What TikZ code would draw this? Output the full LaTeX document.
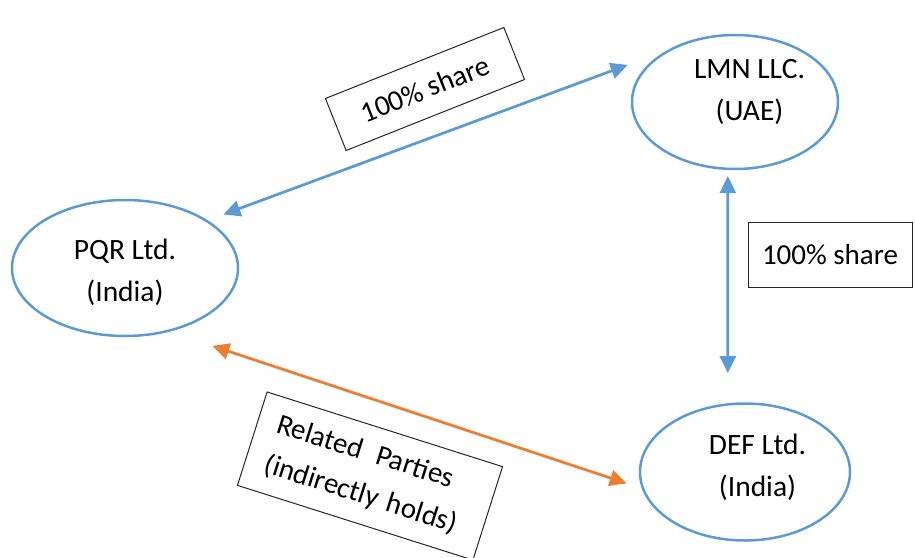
\documentclass[tikz,border=0pt]{standalone}
\usepackage{fontspec}
\setmainfont{Carlito}
\usetikzlibrary{arrows.meta,shapes.geometric}
\definecolor{shareBlue}{HTML}{5B9BD5}
\definecolor{relOrange}{HTML}{ED7D31}
\tikzset{
  firm/.style={
    ellipse,
    draw=shareBlue,
    line width=2.5pt,
    inner sep=0pt
  },
  firmtext/.style={
    align=center,
    inner sep=0pt,
    font=\fontsize{29.5}{42}\selectfont
  },
  tagbox/.style={
    draw=black!85,
    line width=1pt,
    fill=white,
    align=center,
    inner sep=0pt,
    font=\fontsize{29}{42}\selectfont
  },
  share/.style={
    {Triangle[length=17pt,width=16pt]}-{Triangle[length=17pt,width=16pt]},
    line width=2.75pt,
    draw=shareBlue
  },
  related/.style={
    {Triangle[length=17pt,width=16pt]}-{Triangle[length=17pt,width=16pt]},
    line width=2.75pt,
    draw=relOrange
  }
}

\begin{document}
\begin{tikzpicture}[x=1pt,y=-1pt]
\useasboundingbox (0,0) rectangle (915,557);

\node[firm, minimum width=226pt, minimum height=136pt] (pqr) at (125,268) {};
\node[firm, minimum width=206pt, minimum height=134pt] (lmn) at (735,102) {};
\node[firm, minimum width=210pt, minimum height=137pt] (def) at (745,472) {};

\node[firmtext] (pqrtext) at (125,272) {PQR Ltd.\\(India)};
\node[firmtext] (lmntext) at (749.5,92) {LMN LLC.\\(UAE)};
\node[firmtext] (deftext) at (757.5,467) {DEF Ltd.\\(India)};

\draw[share, shorten <=16.7pt, shorten >=41.5pt] (pqr.30.1) -- (lmn.143.5);
\draw[share, shorten <=6pt, shorten >=30pt] (lmn.-96) -- (def.104.2);
\draw[related, shorten <=45pt, shorten >=15.8pt] (pqr.-55.4) -- (def.-171.1);

\node[tagbox, rotate=21.7, minimum width=192pt, minimum height=56pt] (shareA) at (425,89) {100\% share};
\node[tagbox, minimum width=164pt, minimum height=65pt] (shareB) at (830,254.5) {100\% share};
\node[tagbox, rotate=-17.6, align=left, text width=207pt, inner xsep=20pt, minimum height=98pt] (relbox) at (370,476) {Related\hspace{5pt} Parties\\(indirectly holds)};

\end{tikzpicture}
\end{document}
